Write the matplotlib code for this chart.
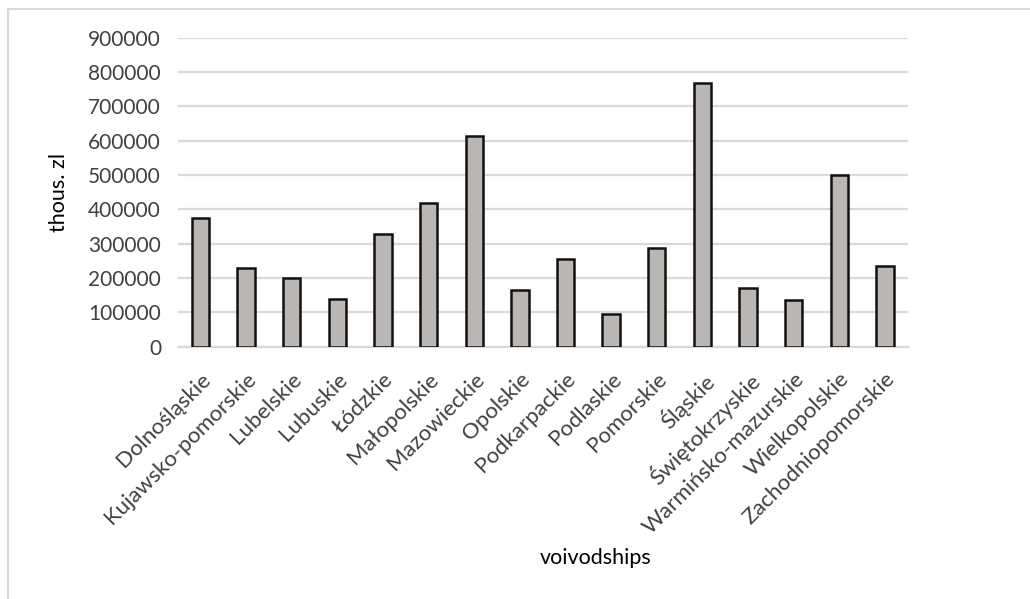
import matplotlib
matplotlib.use('Agg')
import matplotlib.pyplot as plt
from matplotlib.patches import Rectangle

# Dane — województwa i wartości (tys. zł)
voivodships = ['Dolnośląskie', 'Kujawsko-pomorskie', 'Lubelskie', 'Lubuskie',
               'Łódzkie', 'Małopolskie', 'Mazowieckie', 'Opolskie',
               'Podkarpackie', 'Podlaskie', 'Pomorskie', 'Śląskie',
               'Świętokrzyskie', 'Warmińsko-mazurskie', 'Wielkopolskie',
               'Zachodniopomorskie']
values = [376000, 230000, 201000, 138000,
          327000, 420000, 614000, 164000,
          256000, 95000, 288000, 767000,
          172000, 135000, 501000, 234000]
y_ticks = [0, 100000, 200000, 300000, 400000, 500000, 600000, 700000, 800000, 900000]

plt.rcParams['font.family'] = ['Lato', 'DejaVu Sans']

fig = plt.figure(figsize=(10.30, 5.99), dpi=100)
ax = fig.add_axes([0.1725, 0.4212, 0.7088, 0.5158])

x = list(range(len(voivodships)))
ax.bar(x, values, width=0.38, color='#bab6b4', edgecolor='#111111',
       linewidth=1.8, zorder=3)

ax.set_xlim(-0.5, len(voivodships) - 0.5)
ax.set_ylim(0, 900000)
ax.set_yticks(y_ticks)
ax.set_yticklabels([str(v) for v in y_ticks], fontsize=15, color='#404040')
ax.yaxis.grid(True, color='#d9d9d9', linewidth=1.6, zorder=0)
ax.set_axisbelow(True)

ax.set_xticks(x)
ax.set_xticklabels(voivodships, rotation=45, ha='right', rotation_mode='anchor',
                   fontsize=16, color='#404040')
ax.tick_params(axis='both', length=0)
ax.tick_params(axis='y', pad=12)
ax.tick_params(axis='x', pad=16)

for side in ['top', 'right', 'left']:
    ax.spines[side].set_visible(False)
ax.spines['bottom'].set_color('#d9d9d9')
ax.spines['bottom'].set_linewidth(1.6)

ax.set_ylabel('thous. zl', fontsize=15.5, color='#000000', labelpad=14)
fig.text(0.578, 0.068, 'voivodships', fontsize=15.5, ha='center', va='center')

# Ramka wykresu (ucięta z prawej i z dołu)
fig.patches.append(Rectangle((8 / 1030, -0.05), 1.2, 1 - 9 / 599 + 0.05,
                             transform=fig.transFigure, fill=False,
                             edgecolor='#d9d9d9', linewidth=1.5))

fig.savefig('out.png', dpi=100)
